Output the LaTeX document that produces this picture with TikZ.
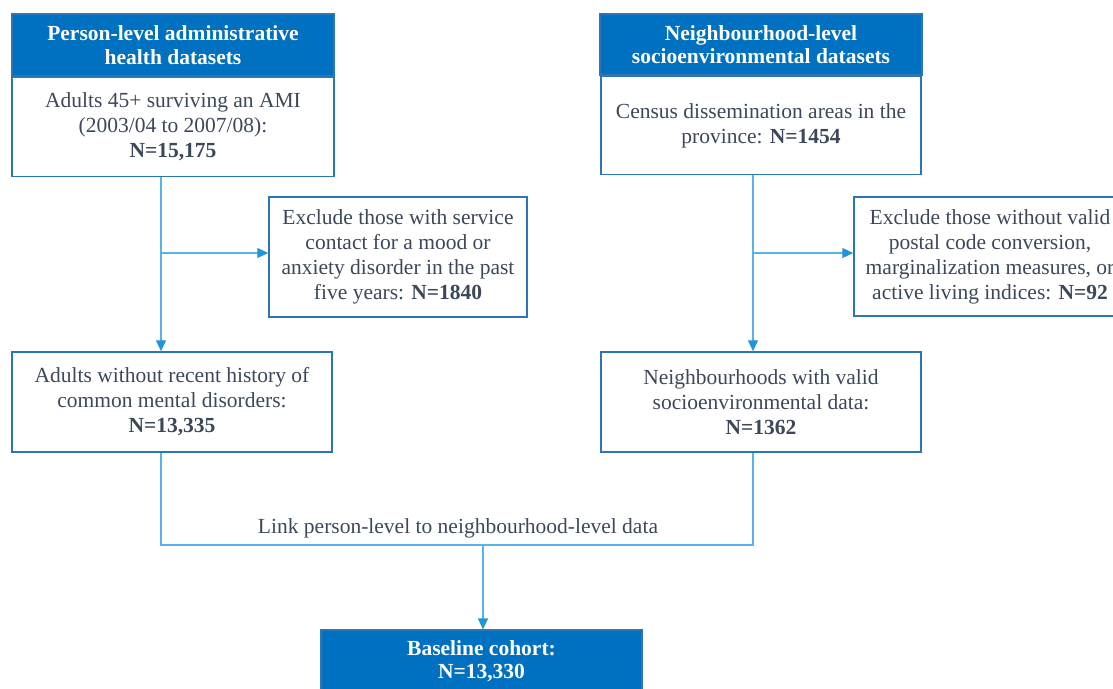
\documentclass[tikz,border=0pt]{standalone}
\usepackage{fontspec}
\setmainfont{Liberation Serif}
\usetikzlibrary{positioning, arrows.meta}
\definecolor{hdrblue}{RGB}{0,112,192}
\definecolor{boxblue}{RGB}{46,117,182}
\definecolor{lineblue}{RGB}{90,178,235}
\definecolor{tipblue}{RGB}{30,150,215}
\definecolor{txtgray}{RGB}{60,72,90}

\begin{document}
\begin{tikzpicture}[
        x=1pt, y=-1pt,
        % Blue header boxes
        hdr/.style={
            rectangle, draw=boxblue, line width=1.2pt,
            fill=hdrblue, text=white, align=center, inner sep=0pt,
            font=\fontsize{21.5}{23.5}\selectfont\bfseries
        },
        % White boxes with blue border
        body/.style={
            rectangle, draw=boxblue, line width=1.5pt,
            fill=white, text=txtgray, align=center, inner sep=0pt,
            font=\fontsize{21.5}{25}\selectfont
        },
        % Connectors
        link/.style={draw=lineblue, line width=1.2pt},
        arr/.style={link, -{Triangle[length=11pt, width=10pt, color=tipblue, fill=tipblue]}}
    ]
    \useasboundingbox (0,0) rectangle (1113,688);

    % Person-level column
    \node[hdr, minimum width=322pt, minimum height=62pt] (phead) at (173,45)
        {Person-level administrative\\health datasets};
    \node[body, minimum width=322pt, minimum height=99pt, below=0pt of phead] (pbody)
        {Adults 45+ surviving an AMI\\(2003/04 to 2007/08):\\\textbf{N=15,175}};
    \node[body, minimum width=258pt, minimum height=120pt] (pexcl) at (398,257)
        {Exclude those with service\\contact for a mood or\\anxiety disorder in the past\\five years: \textbf{N=1840}};
    \node[body, minimum width=320pt, minimum height=100pt] (pmid) at (172,402)
        {Adults without recent history of\\common mental disorders:\\\textbf{N=13,335}};

    % Neighbourhood-level column
    \node[hdr, minimum width=322pt, minimum height=61pt] (nhead) at (761,44.5)
        {Neighbourhood-level\\socioenvironmental datasets};
    \node[body, minimum width=320pt, minimum height=98pt, below=0pt of nhead] (nbody)
        {Census dissemination areas in the\\province: \textbf{N=1454}};
    \node[body, minimum width=272pt, minimum height=119pt] (nexcl) at (990,256.5)
        {Exclude those without valid\\postal code conversion,\\marginalization measures, or\\active living indices: \textbf{N=92}};
    \node[body, minimum width=320pt, minimum height=100pt] (nmid) at (761,402)
        {Neighbourhoods with valid\\socioenvironmental data:\\\textbf{N=1362}};

    % Result
    \node[hdr, minimum width=321pt, minimum height=62pt] (cohort) at (481.5,661)
        {Baseline cohort:\\N=13,330};

    % Branch points
    \coordinate (pbr) at (161,253);
    \coordinate (nbr) at (753,253);
    \coordinate (lnk) at (483,545);

    % Connections
    \draw[arr] ([xshift=-12pt]pbody.south) -- ([xshift=-11pt]pmid.north);
    \draw[arr] (pbr) -- (pexcl.west |- pbr);
    \draw[arr] ([xshift=-8pt]nbody.south) -- ([xshift=-8pt]nmid.north);
    \draw[arr] (nbr) -- (nexcl.west |- nbr);

    \draw[link] ([xshift=-11pt]pmid.south) |- ([xshift=-8pt]nmid.south |- lnk)
        -- ([xshift=-8pt]nmid.south);
    \node[text=txtgray, font=\fontsize{21.5}{25}\selectfont] (lbl) at (458,528)
        {Link person-level to neighbourhood-level data};
    \draw[arr] (lnk) -- (lnk |- cohort.north);

\end{tikzpicture}
\end{document}
